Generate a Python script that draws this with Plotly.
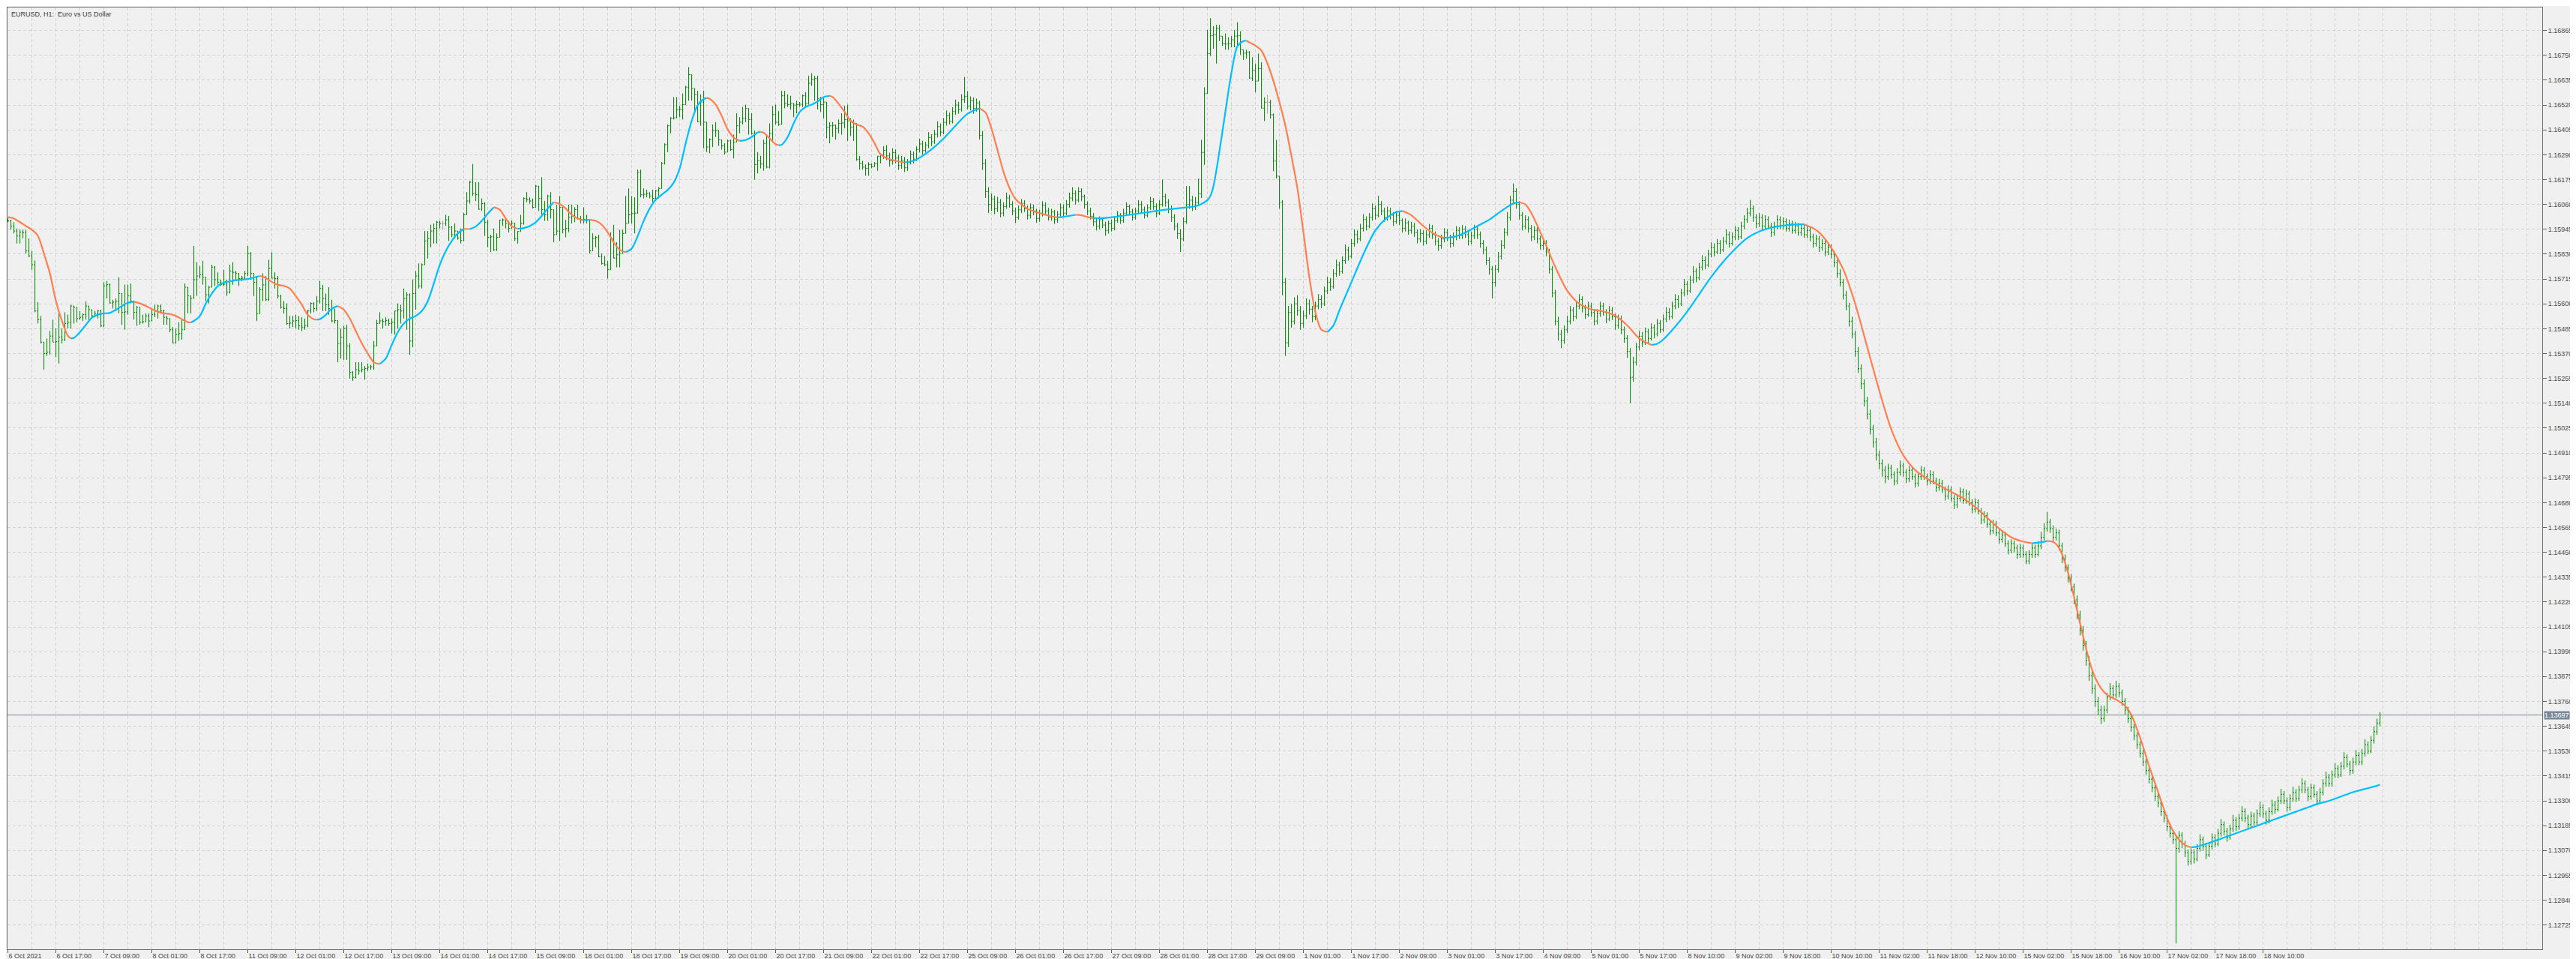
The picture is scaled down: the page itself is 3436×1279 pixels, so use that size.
import numpy as np
import plotly.graph_objects as go

# ---- data: EURUSD H1 bars, prices in points (price * 100000) ----
open_pts = [
115990,115984,115960,115937,115914,115932,115930,115845,115822,115781,
115567,115527,115423,115370,115376,115451,115423,115425,115446,115434,
115509,115515,115590,115584,115532,115538,115550,115590,115573,115544,
115556,115567,115498,115683,115689,115604,115608,115613,115648,115561,
115563,115637,115613,115561,115584,115515,115517,115544,115521,115550,
115567,115590,115567,115538,115532,115480,115419,115457,115463,115480,
115677,115637,115625,115712,115729,115735,115723,115642,115677,115770,
115712,115700,115689,115691,115654,115752,115746,115741,115717,115719,
115741,115833,115741,115700,115555,115665,115688,115619,115764,115719,
115717,115636,115584,115578,115509,115511,115521,115523,115498,115492,
115500,115567,115602,115578,115613,115671,115625,115596,115578,115521,
115523,115417,115445,115486,115405,115283,115260,115295,115289,115297,
115301,115307,115309,115405,115509,115521,115519,115523,115509,115515,
115567,115573,115567,115625,115642,115428,115648,115729,115683,115781,
115891,115902,115937,115949,115978,115972,115972,115989,115955,115920,
115937,115905,115893,116012,116076,116163,116111,116105,116038,116064,
115978,115908,115910,115850,115908,115987,115989,115972,115949,115974,
115902,115935,115972,116088,116082,116076,116047,116145,116088,116036,
116012,116099,116036,115920,115937,116047,115943,115949,116001,116007,
116036,115995,115989,115991,115987,115845,115902,115908,115818,115787,
115781,115758,115902,115812,115827,115833,115926,115972,116012,116018,
116020,116209,116105,116107,116111,116099,116088,116122,116134,116250,
116337,116424,116459,116461,116499,116501,116522,116603,116661,116597,
116569,116443,116534,116441,116326,116360,116401,116403,116360,116331,
116302,116354,116314,116349,116424,116441,116459,116505,116453,116389,
116245,116262,116247,116343,116233,116389,116476,116441,116430,116563,
116528,116522,116528,116520,116522,116524,116563,116528,116621,116638,
116644,116551,116522,116534,116418,116424,116426,116412,116435,116437,
116453,116447,116418,116435,116268,116250,116233,116227,116245,116235,
116250,116283,
116291,116310,116285,116262,116300,116275,116240,116265,116230,116255,
116290,116270,116315,116340,116310,116335,116370,116350,116385,116420,
116395,116440,116470,116445,116490,116520,116500,116545,116560,116515,
116540,116505,116530,116380,116250,116120,116060,116085,116040,116070,
116020,116050,116090,116060,116030,116000,116035,116065,116040,116010,
116045,116030,115995,116020,116055,116030,116000,116025,115990,116015,
116045,116020,116060,116090,116110,116080,116120,116095,116060,116030,
116005,115980,115960,115990,115965,115940,115970,115950,115985,116010,
115985,116020,116050,116025,116000,116030,116060,116035,116010,116045,
116075,116050,116020,116060,116095,116070,116040,116000,115960,115925,
115900,115980,116060,116080,116050,116070,116110,116301,116573,116758,
116841,116845,116874,116839,116804,116802,116804,116822,116839,116841,
116776,116760,116764,116645,116680,116631,116689,116506,116533,116533,
116475,116261,116191,116070,115700,115420,115560,115520,115600,115570,
115510,115545,115600,115575,115540,115590,115620,115600,115660,115700,
115680,115740,115780,115750,115800,115850,115820,115880,115920,115900,
115950,115990,115960,116000,116040,116010,116060,116030,116000,116030,
116010,115980,116010,115985,115950,115975,115940,115960,115930,115900,
115925,115890,115920,115950,115920,115890,115870,115900,115930,115905,
115880,115910,115940,115915,115945,115920,115890,115915,115945,115920,
115880,115850,115800,115760,115700,115760,115820,115870,115930,116000,
116080,116120,116060,116010,115960,115990,115950,115910,115940,115900,
115870,115880,115840,115760,115650,115520,115460,115430,115480,115520,
115570,115540,115590,115620,115580,115550,115590,115560,115520,115555,
115590,115560,115530,115570,115540,115500,115530,115480,115440,115380,
115260,115330,115400,115450,115420,115470,115440,115490,115460,115510,
115480,115530,115560,115540,115590,115620,115600,115650,115690,115660,
115710,115750,115720,115770,115800,115780,115830,115860,115840,115880,
115850,115890,115920,115880,115910,115940,115910,115960,115990,116020,
116040,116000,115970,116000,115960,115990,115960,115930,115960,115990,
115960,115980,115950,115970,115940,115960,115930,115950,115920,115940,
115910,115880,115900,115860,115880,115840,115860,115830,115790,115740,
115700,115640,115590,115520,115460,115380,115300,115230,115150,115090,
115020,114960,114900,114860,114830,114800,114840,114810,114780,114820,
114850,114820,114790,114830,114800,114770,114800,114830,114800,114780,
114810,114780,114750,114770,114740,114710,114740,114700,114670,114700,
114730,114690,114720,114680,114650,114680,114640,114600,114620,114580,
114550,114580,114540,114510,114530,114490,114460,114490,114470,114440,
114470,114440,114410,114440,114470,114440,114480,114520,114560,114590,
114560,114520,114540,114480,114420,114380,114330,114290,114230,114160,
114090,114020,113950,113880,113820,113760,113720,113680,113720,113780,
113820,113790,113830,113800,113760,113720,113680,113640,113600,113560,
113520,113480,113440,113400,113360,113320,113290,113250,113220,113180,
113150,113120,113080,113140,113100,113060,113020,113060,113030,113080,
113120,113090,113050,113090,113130,113100,113150,113190,113160,113130,
113170,113210,113180,113220,113250,113220,113190,113230,113200,113240,
113270,113240,113210,113250,113280,113260,113300,113330,113300,113270,
113310,113340,113310,113350,113380,113350,113320,113360,113330,113300,
113340,113380,113410,113380,113420,113450,113420,113460,113500,113470,
113440,113480,113510,113480,113520,113560,113530,113580,113620,113660,
]
high_pts = [
115995,115989,115978,115949,115943,115943,115943,115903,115845,115801,
115608,115544,115423,115440,115475,115527,115486,115556,115486,115561,
115550,115596,115590,115584,115567,115556,115611,115590,115573,115567,
115573,115573,115700,115706,115694,115619,115625,115723,115648,115689,
115689,115694,115613,115590,115584,115550,115556,115556,115573,115596,
115596,115596,115573,115544,115532,115492,115486,115515,115527,115694,
115677,115637,115868,115793,115775,115799,115723,115683,115781,115775,
115746,115712,115758,115712,115781,115793,115752,115741,115729,115752,
115868,115839,115741,115729,115677,115741,115729,115804,115839,115746,
115729,115642,115613,115602,115544,115544,115549,115544,115538,115532,
115573,115607,115607,115636,115706,115688,115648,115677,115619,115578,
115523,115486,115498,115503,115417,115289,115330,115330,115330,115312,
115324,115318,115428,115526,115561,115532,115538,115532,115532,115567,
115602,115596,115671,115654,115648,115712,115752,115787,115787,115937,
115937,115966,115972,115984,115984,115984,116012,116007,115960,115972,
115937,115949,116021,116117,116169,116247,116163,116163,116088,116070,
115989,115920,115949,115926,115989,115995,115989,115984,115986,115974,
115937,116012,116093,116117,116093,116088,116151,116145,116186,116076,
116105,116117,116036,116059,116099,116047,115989,116059,116059,116047,
116059,116007,116047,116012,115989,115926,115914,115920,115833,115821,
115798,115931,115966,115885,115943,115943,116099,116134,116099,116093,
116221,116221,116134,116128,116117,116128,116128,116140,116256,116343,
116430,116464,116557,116557,116516,116574,116609,116696,116661,116597,
116586,116569,116586,116441,116366,116430,116441,116403,116360,116343,
116360,116360,116383,116482,116464,116511,116522,116505,116482,116401,
116302,116285,116360,116383,116435,116516,116522,116493,116586,116586,
116569,116563,116528,116540,116534,116569,116580,116655,116667,116655,
116655,116557,116551,116534,116441,116441,116430,116453,116482,116516,
116522,116459,116453,116435,116285,116262,116245,116256,116250,116256,
116285,116297,
116330,116335,116300,116320,116315,116290,116285,116280,116270,116310,
116305,116330,116365,116355,116350,116395,116385,116405,116445,116435,
116460,116495,116485,116510,116545,116535,116570,116650,116585,116560,
116555,116550,116540,116400,116270,116140,116110,116100,116095,116085,
116070,116115,116105,116075,116045,116055,116085,116080,116055,116065,
116060,116040,116035,116075,116070,116045,116040,116035,116030,116065,
116060,116080,116115,116140,116125,116140,116135,116105,116075,116045,
116020,115995,116005,116000,115980,115985,115990,116000,116030,116020,
116040,116070,116060,116040,116045,116080,116075,116050,116060,116095,
116090,116065,116080,116175,116110,116085,116055,116015,115975,115945,
116000,116145,116145,116100,116095,116180,116359,116602,116868,116922,
116885,116891,116891,116839,116851,116833,116839,116868,116903,116862,
116776,116776,116770,116741,116712,116758,116718,116556,116567,116544,
116481,116359,116191,116080,115720,115590,115600,115630,115640,115590,
115570,115625,115620,115590,115610,115645,115640,115680,115725,115720,
115760,115805,115795,115820,115875,115865,115900,115945,115940,115970,
116015,116005,116020,116065,116055,116100,116075,116045,116050,116045,
116025,116030,116025,115995,115995,115985,115980,115975,115945,115945,
115940,115940,115970,115965,115935,115905,115920,115950,115945,115920,
115930,115960,115955,115965,115960,115935,115935,115965,115960,115935,
115895,115865,115815,115775,115780,115840,115895,115950,116025,116100,
116157,116135,116075,116025,116010,116005,115965,115960,115955,115915,
115905,115895,115855,115775,115665,115540,115480,115500,115545,115590,
115585,115610,115645,115635,115595,115610,115605,115575,115575,115610,
115605,115575,115590,115585,115555,115550,115545,115495,115455,115395,
115355,115420,115475,115470,115490,115485,115510,115505,115530,115525,
115550,115585,115580,115610,115645,115640,115670,115715,115705,115730,
115775,115765,115790,115825,115820,115850,115885,115880,115900,115895,
115910,115945,115935,115930,115960,115955,115980,116010,116045,116081,
116055,116015,116020,116015,116010,116005,115975,115980,116010,116005,
116000,115995,115990,115985,115980,115975,115970,115965,115960,115955,
115925,115920,115915,115900,115895,115880,115875,115845,115805,115760,
115715,115660,115605,115540,115475,115400,115320,115250,115170,115110,
115040,114980,114920,114880,114850,114860,114855,114825,114840,114875,
114865,114835,114850,114845,114815,114820,114850,114845,114815,114830,
114825,114795,114790,114785,114755,114760,114755,114715,114720,114750,
114745,114740,114735,114695,114700,114695,114655,114640,114635,114595,
114600,114595,114555,114550,114545,114505,114510,114505,114485,114490,
114485,114455,114460,114490,114485,114500,114545,114585,114637,114605,
114575,114560,114555,114495,114440,114395,114350,114305,114250,114180,
114110,114040,113970,113900,113840,113780,113740,113740,113800,113845,
113835,113855,113845,113815,113775,113735,113695,113655,113615,113575,
113535,113495,113455,113415,113375,113335,113305,113265,113235,113195,
113165,113140,113160,113155,113115,113075,113080,113075,113100,113145,
113135,113105,113110,113150,113145,113170,113215,113205,113175,113190,
113235,113225,113240,113275,113265,113235,113250,113245,113260,113295,
113285,113255,113270,113305,113300,113320,113355,113345,113315,113330,
113365,113355,113370,113405,113395,113365,113380,113375,113345,113360,
113400,113435,113425,113440,113475,113465,113480,113525,113515,113485,
113500,113535,113525,113540,113585,113575,113600,113645,113680,113710,
]
low_pts = [
115978,115943,115926,115879,115879,115903,115833,115816,115758,115561,
115509,115417,115295,115359,115365,115423,115353,115324,115417,115428,
115486,115486,115509,115515,115527,115521,115527,115521,115532,115538,
115532,115492,115492,115625,115602,115579,115567,115556,115503,115480,
115550,115602,115527,115498,115503,115509,115517,115492,115521,115538,
115532,115556,115503,115503,115469,115417,115417,115428,115434,115480,
115556,115556,115625,115637,115718,115689,115613,115602,115677,115683,
115689,115683,115683,115637,115648,115688,115712,115683,115706,115712,
115729,115712,115636,115521,115555,115613,115613,115613,115717,115671,
115625,115578,115555,115503,115486,115492,115486,115480,115474,115480,
115492,115555,115561,115567,115602,115567,115567,115549,115515,115509,
115330,115347,115341,115341,115255,115243,115255,115272,115283,115249,
115289,115295,115295,115405,115509,115486,115498,115498,115463,115457,
115486,115509,115532,115480,115364,115399,115573,115671,115671,115781,
115810,115862,115879,115879,115949,115943,115960,115891,115908,115902,
115897,115879,115891,116012,116064,116099,116076,116036,116030,115914,
115862,115839,115845,115845,115908,115960,115949,115931,115949,115891,
115879,115935,115966,116070,116064,116041,116047,116030,116012,115984,
115984,115995,115885,115920,115891,115926,115908,115931,115972,115978,
115989,115972,115972,115972,115833,115845,115862,115816,115781,115775,
115717,115758,115810,115769,115769,115833,115926,115972,115972,115926,
116018,116093,116088,116093,116088,116070,116076,116088,116134,116245,
116302,116389,116453,116459,116464,116453,116522,116540,116540,116488,
116441,116424,116320,116302,116297,116326,116372,116331,116314,116291,
116302,116308,116273,116349,116389,116430,116441,116383,116383,116175,
116204,116227,116216,116227,116227,116349,116430,116424,116430,116505,
116511,116499,116464,116482,116511,116511,116511,116522,116609,116540,
116499,116488,116459,116366,116343,116372,116360,116389,116383,116412,
116354,116377,116354,116262,116221,116221,116193,116193,116227,116233,
116216,116250,
116270,116265,116235,116245,116250,116220,116225,116210,116215,116245,
116250,116260,116300,116290,116300,116320,116330,116340,116370,116375,
116385,116425,116430,116435,116475,116480,116490,116530,116500,116495,
116480,116490,116360,116220,116090,116020,116030,116015,116025,116000,
116005,116040,116045,116010,115975,115990,116020,116025,115990,115995,
116010,115975,115980,116005,116015,115985,115985,115970,115975,116005,
116005,116010,116045,116075,116060,116070,116075,116040,116010,115990,
115960,115940,115945,115950,115915,115925,115935,115940,115975,115970,
115975,116010,116010,115985,115990,116020,116020,115995,116000,116035,
116035,116000,116010,116050,116050,116020,115980,115940,115900,115840,
115890,115970,116040,116030,116035,116060,116090,116243,116573,116747,
116781,116712,116816,116793,116776,116776,116787,116787,116793,116752,
116729,116735,116642,116631,116579,116631,116504,116446,116481,116457,
116214,116180,116040,115640,115359,115400,115490,115505,115545,115480,
115490,115530,115550,115515,115525,115575,115580,115590,115645,115660,
115670,115725,115730,115740,115785,115800,115810,115865,115880,115890,
115935,115940,115950,115985,115990,116000,116010,115980,115985,115990,
115960,115970,115965,115930,115935,115920,115925,115910,115880,115885,
115870,115875,115905,115900,115870,115845,115855,115885,115890,115860,
115865,115895,115900,115900,115905,115870,115875,115900,115900,115860,
115830,115780,115735,115625,115680,115745,115805,115855,115915,115985,
116060,116040,115990,115940,115945,115930,115890,115895,115880,115850,
115850,115820,115740,115630,115500,115430,115395,115415,115465,115505,
115520,115530,115575,115560,115530,115540,115540,115500,115505,115540,
115545,115510,115520,115525,115480,115485,115460,115420,115350,115140,
115240,115315,115385,115400,115410,115420,115430,115440,115450,115465,
115470,115515,115525,115530,115575,115580,115590,115635,115640,115650,
115695,115700,115710,115755,115760,115770,115815,115820,115830,115830,
115840,115875,115860,115870,115895,115895,115900,115945,115975,116005,
115980,115950,115955,115940,115945,115945,115910,115915,115945,115945,
115945,115935,115935,115925,115925,115915,115915,115905,115905,115890,
115860,115865,115840,115845,115820,115825,115810,115770,115720,115680,
115620,115570,115495,115440,115355,115280,115205,115125,115065,114995,
114935,114875,114835,114800,114770,114785,114790,114760,114765,114805,
114800,114770,114775,114785,114750,114755,114785,114785,114760,114765,
114765,114730,114735,114725,114690,114695,114685,114650,114655,114685,
114675,114675,114665,114630,114635,114625,114580,114585,114565,114530,
114535,114525,114490,114495,114475,114440,114445,114450,114420,114425,
114425,114395,114395,114425,114425,114430,114465,114505,114545,114540,
114500,114505,114460,114400,114360,114310,114270,114210,114140,114065,
113995,113925,113855,113795,113735,113695,113655,113665,113705,113765,
113770,113775,113780,113740,113700,113660,113620,113580,113540,113500,
113460,113420,113380,113340,113300,113270,113230,113200,113160,113130,
113100,112640,113060,113080,113040,113000,113005,113010,113020,113065,
113070,113030,113040,113075,113085,113090,113135,113140,113110,113120,
113155,113160,113165,113205,113200,113170,113175,113185,113185,113225,
113220,113190,113195,113235,113240,113250,113285,113285,113250,113255,
113295,113295,113300,113335,113335,113300,113305,113315,113280,113285,
113325,113365,113365,113365,113405,113405,113410,113445,113455,113420,
113425,113465,113465,113465,113505,113515,113520,113565,113605,113645,
]
close_pts = [
115984,115960,115937,115914,115932,115930,115845,115822,115781,115567,
115527,115423,115370,115376,115451,115423,115425,115446,115434,115509,
115515,115590,115584,115532,115538,115550,115590,115573,115544,115556,
115567,115498,115683,115689,115604,115608,115613,115648,115561,115563,
115637,115613,115561,115584,115515,115517,115544,115521,115550,115567,
115590,115567,115538,115532,115480,115419,115457,115463,115480,115677,
115637,115625,115712,115729,115735,115723,115642,115677,115770,115712,
115700,115689,115691,115654,115752,115746,115741,115717,115719,115741,
115833,115741,115700,115555,115665,115688,115619,115764,115719,115717,
115636,115584,115578,115509,115511,115521,115523,115498,115492,115500,
115567,115602,115578,115613,115671,115625,115596,115578,115521,115523,
115417,115445,115486,115405,115283,115260,115295,115289,115297,115301,
115307,115309,115405,115509,115521,115519,115523,115509,115515,115567,
115573,115567,115625,115642,115428,115648,115729,115683,115781,115891,
115902,115937,115949,115978,115972,115972,115989,115955,115920,115937,
115905,115893,116012,116076,116163,116111,116105,116038,116064,115978,
115908,115910,115850,115908,115987,115989,115972,115949,115974,115902,
115935,115972,116088,116082,116076,116047,116145,116088,116036,116012,
116099,116036,115920,115937,116047,115943,115949,116001,116007,116036,
115995,115989,115991,115987,115845,115902,115908,115818,115787,115781,
115758,115902,115812,115827,115833,115926,115972,116012,116018,116020,
116209,116105,116107,116111,116099,116088,116122,116134,116250,116337,
116424,116459,116461,116499,116501,116522,116603,116661,116597,116569,
116443,116534,116441,116326,116360,116401,116403,116360,116331,116302,
116354,116314,116349,116424,116441,116459,116505,116453,116389,116245,
116262,116247,116343,116233,116389,116476,116441,116430,116563,116528,
116522,116528,116520,116522,116524,116563,116528,116621,116638,116644,
116551,116522,116534,116418,116424,116426,116412,116435,116437,116453,
116447,116418,116435,116268,116250,116233,116227,116245,116235,116250,
116283,116291,
116310,116285,116262,116300,116275,116240,116265,116230,116255,116290,
116270,116315,116340,116310,116335,116370,116350,116385,116420,116395,
116440,116470,116445,116490,116520,116500,116545,116560,116515,116540,
116505,116530,116380,116250,116120,116060,116085,116040,116070,116020,
116050,116090,116060,116030,116000,116035,116065,116040,116010,116045,
116030,115995,116020,116055,116030,116000,116025,115990,116015,116045,
116020,116060,116090,116110,116080,116120,116095,116060,116030,116005,
115980,115960,115990,115965,115940,115970,115950,115985,116010,115985,
116020,116050,116025,116000,116030,116060,116035,116010,116045,116075,
116050,116020,116060,116095,116070,116040,116000,115960,115925,115900,
115980,116060,116080,116050,116070,116110,116301,116573,116758,116841,
116845,116874,116839,116804,116802,116804,116822,116839,116841,116776,
116760,116764,116645,116680,116631,116689,116506,116533,116533,116475,
116261,116191,116070,115700,115420,115560,115520,115600,115570,115510,
115545,115600,115575,115540,115590,115620,115600,115660,115700,115680,
115740,115780,115750,115800,115850,115820,115880,115920,115900,115950,
115990,115960,116000,116040,116010,116060,116030,116000,116030,116010,
115980,116010,115985,115950,115975,115940,115960,115930,115900,115925,
115890,115920,115950,115920,115890,115870,115900,115930,115905,115880,
115910,115940,115915,115945,115920,115890,115915,115945,115920,115880,
115850,115800,115760,115700,115760,115820,115870,115930,116000,116080,
116120,116060,116010,115960,115990,115950,115910,115940,115900,115870,
115880,115840,115760,115650,115520,115460,115430,115480,115520,115570,
115540,115590,115620,115580,115550,115590,115560,115520,115555,115590,
115560,115530,115570,115540,115500,115530,115480,115440,115380,115260,
115330,115400,115450,115420,115470,115440,115490,115460,115510,115480,
115530,115560,115540,115590,115620,115600,115650,115690,115660,115710,
115750,115720,115770,115800,115780,115830,115860,115840,115880,115850,
115890,115920,115880,115910,115940,115910,115960,115990,116020,116040,
116000,115970,116000,115960,115990,115960,115930,115960,115990,115960,
115980,115950,115970,115940,115960,115930,115950,115920,115940,115910,
115880,115900,115860,115880,115840,115860,115830,115790,115740,115700,
115640,115590,115520,115460,115380,115300,115230,115150,115090,115020,
114960,114900,114860,114830,114800,114840,114810,114780,114820,114850,
114820,114790,114830,114800,114770,114800,114830,114800,114780,114810,
114780,114750,114770,114740,114710,114740,114700,114670,114700,114730,
114690,114720,114680,114650,114680,114640,114600,114620,114580,114550,
114580,114540,114510,114530,114490,114460,114490,114470,114440,114470,
114440,114410,114440,114470,114440,114480,114520,114560,114590,114560,
114520,114540,114480,114420,114380,114330,114290,114230,114160,114090,
114020,113950,113880,113820,113760,113720,113680,113720,113780,113820,
113790,113830,113800,113760,113720,113680,113640,113600,113560,113520,
113480,113440,113400,113360,113320,113290,113250,113220,113180,113150,
113120,113080,113140,113100,113060,113020,113060,113030,113080,113120,
113090,113050,113090,113130,113100,113150,113190,113160,113130,113170,
113210,113180,113220,113250,113220,113190,113230,113200,113240,113270,
113240,113210,113250,113280,113260,113300,113330,113300,113270,113310,
113340,113310,113350,113380,113350,113320,113360,113330,113300,113340,
113380,113410,113380,113420,113450,113420,113460,113500,113470,113440,
113480,113510,113480,113520,113560,113530,113580,113620,113660,113697,
]

# smoothed moving average (bar index, price points)
ma_bar = [0,2,4,6,8,10,12,14,16,18,20,21,22,24,26,28,30,32,34,36,
          38,40,42,44,46,48,50,52,54,56,58,60,61,62,64,66,68,70,72,74,
          76,80,84,86,88,90,92,94,96,98,100,102,103,104,106,108,110,112,114,116,
          118,120,122,124,126,128,130,132,134,136,138,140,142,144,146,148,150,152,154,156,
          158,160,162,164,166,168,170,172,174,176,178,180,182,184,186,188,190,192,194,196,
          198,200,202,204,206,208,210,212,214,216,218,220,222,224,226,228,230,232,233,234,
          236,238,240,242,244,246,248,250,251,252,254,256,257,258,260,262,264,266,268,270,
          272,274,275,277,279,281,283,285,287,289,291,
          293,296,299,302,305,308,312,316,320,324,326,328,330,332,334,336,340,344,348,350,
          352,356,358,360,362,366,370,374,378,382,386,390,394,396,398,400,401,402,404,406,
          408,410,412,413,414,416,418,420,422,424,426,428,430,432,434,436,438,440,442,444,
          448,452,456,460,463,465,468,472,476,479,482,486,490,494,498,502,504,506,508,512,
          516,520,524,528,532,536,540,544,548,550,552,556,560,564,568,572,576,580,584,588,
          592,596,599,602,604,608,612,616,620,624,628,632,636,640,644,648,652,656,660,664,
          668,672,675,678,680,682,684,686,688,690,692,694,696,698,700,702,704,706,708,710,
          712,714,716,718,720,722,724,726,728,730,734,738,742,746,750,754,758,762,766,770,
          774,778,782,786,790,791]
ma_pts = [116001,115995,115978,115960,115943,115914,115833,115741,115613,115521,
          115451,115440,115442,115469,115503,115536,115550,115556,115558,115573,
          115590,115605,115610,115602,115590,115576,115564,115556,115553,115544,
          115529,115515,115514,115521,115544,115602,115648,115683,115699,115704,
          115709,115715,115729,115720,115702,115688,115683,115671,115636,115596,
          115549,115529,115527,115529,115549,115578,115590,115573,115532,115474,
          115417,115370,115330,115322,115347,115411,115469,115509,115532,115544,
          115567,115613,115694,115781,115845,115891,115926,115947,115946,115958,
          115984,116018,116047,116036,115995,115960,115947,115951,115960,115978,
          116007,116041,116070,116062,116041,116012,115995,115987,115989,115984,
          115966,115931,115885,115850,115839,115856,115914,115984,116041,116082,
          116105,116127,116161,116227,116343,116447,116519,116548,116553,116549,
          116522,116470,116407,116370,116354,116358,116372,116394,116395,116392,
          116366,116339,116334,116336,116372,116435,116488,116511,116522,116537,
          116557,116563,116557,116526,116488,116447,116430,116420,116389,116343,
          116291,
          116275,116262,116255,116262,116285,116315,116365,116425,116480,116505,
          116485,116410,116310,116210,116135,116085,116040,116020,116005,116000,
          116003,116012,116010,116002,115996,115998,116004,116012,116020,116028,
          116036,116042,116048,116052,116062,116080,116100,116145,116307,116492,
          116670,116793,116816,116818,116810,116795,116772,116712,116631,116533,
          116423,116284,116133,115930,115720,115560,115480,115470,115500,115570,
          115700,115830,115940,116000,116025,116030,116010,115960,115920,115905,
          115910,115930,115960,115990,116030,116065,116070,116060,116020,115900,
          115770,115660,115600,115575,115565,115545,115500,115440,115410,115415,
          115435,115495,115565,115645,115725,115795,115855,115905,115935,115952,
          115962,115967,115968,115950,115930,115860,115760,115600,115400,115200,
          115020,114900,114830,114790,114760,114730,114700,114660,114610,114560,
          114520,114500,114492,114497,114502,114498,114470,114400,114300,114180,
          114060,113950,113870,113820,113790,113775,113760,113740,113700,113630,
          113550,113460,113380,113300,113220,113160,113120,113095,113085,113088,
          113105,113125,113145,113165,113185,113205,113225,113245,113265,113285,
          113300,113320,113340,113355,113370,113375]

tick_labels = ["6 Oct 2021","6 Oct 17:00","7 Oct 09:00","8 Oct 01:00","8 Oct 17:00",
               "11 Oct 09:00","12 Oct 01:00","12 Oct 17:00","13 Oct 09:00","14 Oct 01:00",
               "14 Oct 17:00","15 Oct 09:00","18 Oct 01:00","18 Oct 17:00","19 Oct 09:00",
               "20 Oct 01:00","20 Oct 17:00","21 Oct 09:00","22 Oct 01:00","22 Oct 17:00",
               "25 Oct 09:00","26 Oct 01:00","26 Oct 17:00","27 Oct 09:00","28 Oct 01:00",
               "28 Oct 17:00","29 Oct 09:00","1 Nov 01:00","1 Nov 17:00","2 Nov 09:00",
               "3 Nov 01:00","3 Nov 17:00","4 Nov 09:00","5 Nov 01:00","5 Nov 17:00",
               "8 Nov 10:00","9 Nov 02:00","9 Nov 18:00","10 Nov 10:00","11 Nov 02:00",
               "11 Nov 18:00","12 Nov 10:00","15 Nov 02:00","15 Nov 18:00","16 Nov 10:00",
               "17 Nov 02:00","17 Nov 18:00","18 Nov 10:00"]
label_every = 16

price_ticks = ["1.12725","1.12840","1.12955","1.13070","1.13185","1.13300","1.13415",
               "1.13530","1.13645","1.13760","1.13875","1.13990","1.14105","1.14220",
               "1.14335","1.14450","1.14565","1.14680","1.14795","1.14910","1.15025",
               "1.15140","1.15255","1.15370","1.15485","1.15600","1.15715","1.15830",
               "1.15945","1.16060","1.16175","1.16290","1.16405","1.16520","1.16635",
               "1.16750","1.16865"]
last_price = "1.13697"
title_text = "EURUSD, H1:\u00a0 Euro vs US Dollar"

# ---- build figure ----
n = min(len(open_pts), len(high_pts), len(low_pts), len(close_pts))
o = np.array(open_pts[:n]) / 1e5
h = np.array(high_pts[:n]) / 1e5
l = np.array(low_pts[:n]) / 1e5
c = np.array(close_pts[:n]) / 1e5
x = np.arange(n)
doji = o == c

def masked(arr, m):
    return [v if k else None for v, k in zip(arr, m)]

GREEN = "#008000"
GREY = "#a0a0a0"
fig = go.Figure()
fig.add_trace(go.Ohlc(
    x=x, open=masked(o, ~doji), high=masked(h, ~doji), low=masked(l, ~doji), close=masked(c, ~doji),
    increasing=dict(line=dict(color=GREEN, width=1)),
    decreasing=dict(line=dict(color=GREEN, width=1)),
    tickwidth=0.35, hoverinfo="skip", showlegend=False))
if doji.any():
    fig.add_trace(go.Ohlc(
        x=x, open=masked(o, doji), high=masked(h, doji), low=masked(l, doji), close=masked(c, doji),
        increasing=dict(line=dict(color=GREY, width=1)),
        decreasing=dict(line=dict(color=GREY, width=1)),
        tickwidth=0.35, hoverinfo="skip", showlegend=False))

# moving average coloured by direction (blue rising, coral falling)
m = min(len(ma_bar), len(ma_pts))
mx = np.array(ma_bar[:m])
my = np.array(ma_pts[:m]) / 1e5
d = np.sign(np.diff(my))
for k in range(1, len(d)):
    if d[k] == 0:
        d[k] = d[k - 1]
start = 0
runs = []
for k in range(1, len(d) + 1):
    if k == len(d) or d[k] != d[k - 1]:
        runs.append((start, k, d[k - 1]))
        start = k
for s, e, sgn in runs:
    fig.add_trace(go.Scatter(
        x=mx[s:e + 1], y=my[s:e + 1], mode="lines",
        line=dict(color="#00bfff" if sgn > 0 else "#ff7f50", width=2.2, shape="spline", smoothing=0.8),
        hoverinfo="skip", showlegend=False))

lp = float(last_price)
fig.add_shape(type="line", xref="paper", x0=0, x1=1, yref="y", y0=lp, y1=lp,
              line=dict(color="#778899", width=1))
fig.add_annotation(xref="paper", x=1, xanchor="left", xshift=2, yref="y", y=lp,
                   text=last_price, showarrow=False, bgcolor="#778899",
                   font=dict(color="white", size=9, family="Liberation Sans, Arial"), borderpad=0)
fig.add_annotation(xref="paper", x=0, xanchor="left", xshift=3, yref="paper", y=1, yanchor="top",
                   yshift=-2, text=title_text, showarrow=False,
                   font=dict(color="#3c3c3c", size=9, family="Liberation Sans, Arial"))

GRID = "#d2d2d2"
fig.update_layout(
    width=3436, height=1279,
    margin=dict(l=2, r=53, t=2, b=21),
    paper_bgcolor="#f0f0f0", plot_bgcolor="#f0f0f0",
    showlegend=False,
    font=dict(family="Liberation Sans, Arial", size=9, color="#4a4a4a"),
)
fig.update_xaxes(
    range=[-0.15, 845.1],
    tickmode="array",
    tickvals=[k * label_every for k in range(len(tick_labels))],
    ticktext=tick_labels,
    ticks="outside", ticklen=4, tickcolor="#606060",
    ticklabelposition="outside right",
    showgrid=True, gridcolor=GRID, griddash="4px,3px", gridwidth=1,
    minor=dict(tick0=0, dtick=8, showgrid=True, gridcolor=GRID, griddash="4px,3px", ticks=""),
    showline=True, mirror=True, linecolor="#6e6e6e", linewidth=1,
    zeroline=False, rangeslider=dict(visible=False),
)
fig.update_yaxes(
    side="right",
    range=[1.12613, 1.169715],
    tickmode="array",
    tickvals=[float(t) for t in price_ticks],
    ticktext=price_ticks,
    ticks="outside", ticklen=5, tickcolor="#606060",
    showgrid=True, gridcolor=GRID, griddash="4px,3px", gridwidth=1,
    showline=True, mirror=True, linecolor="#6e6e6e", linewidth=1,
    zeroline=False,
)

fig.write_html("out.html")
